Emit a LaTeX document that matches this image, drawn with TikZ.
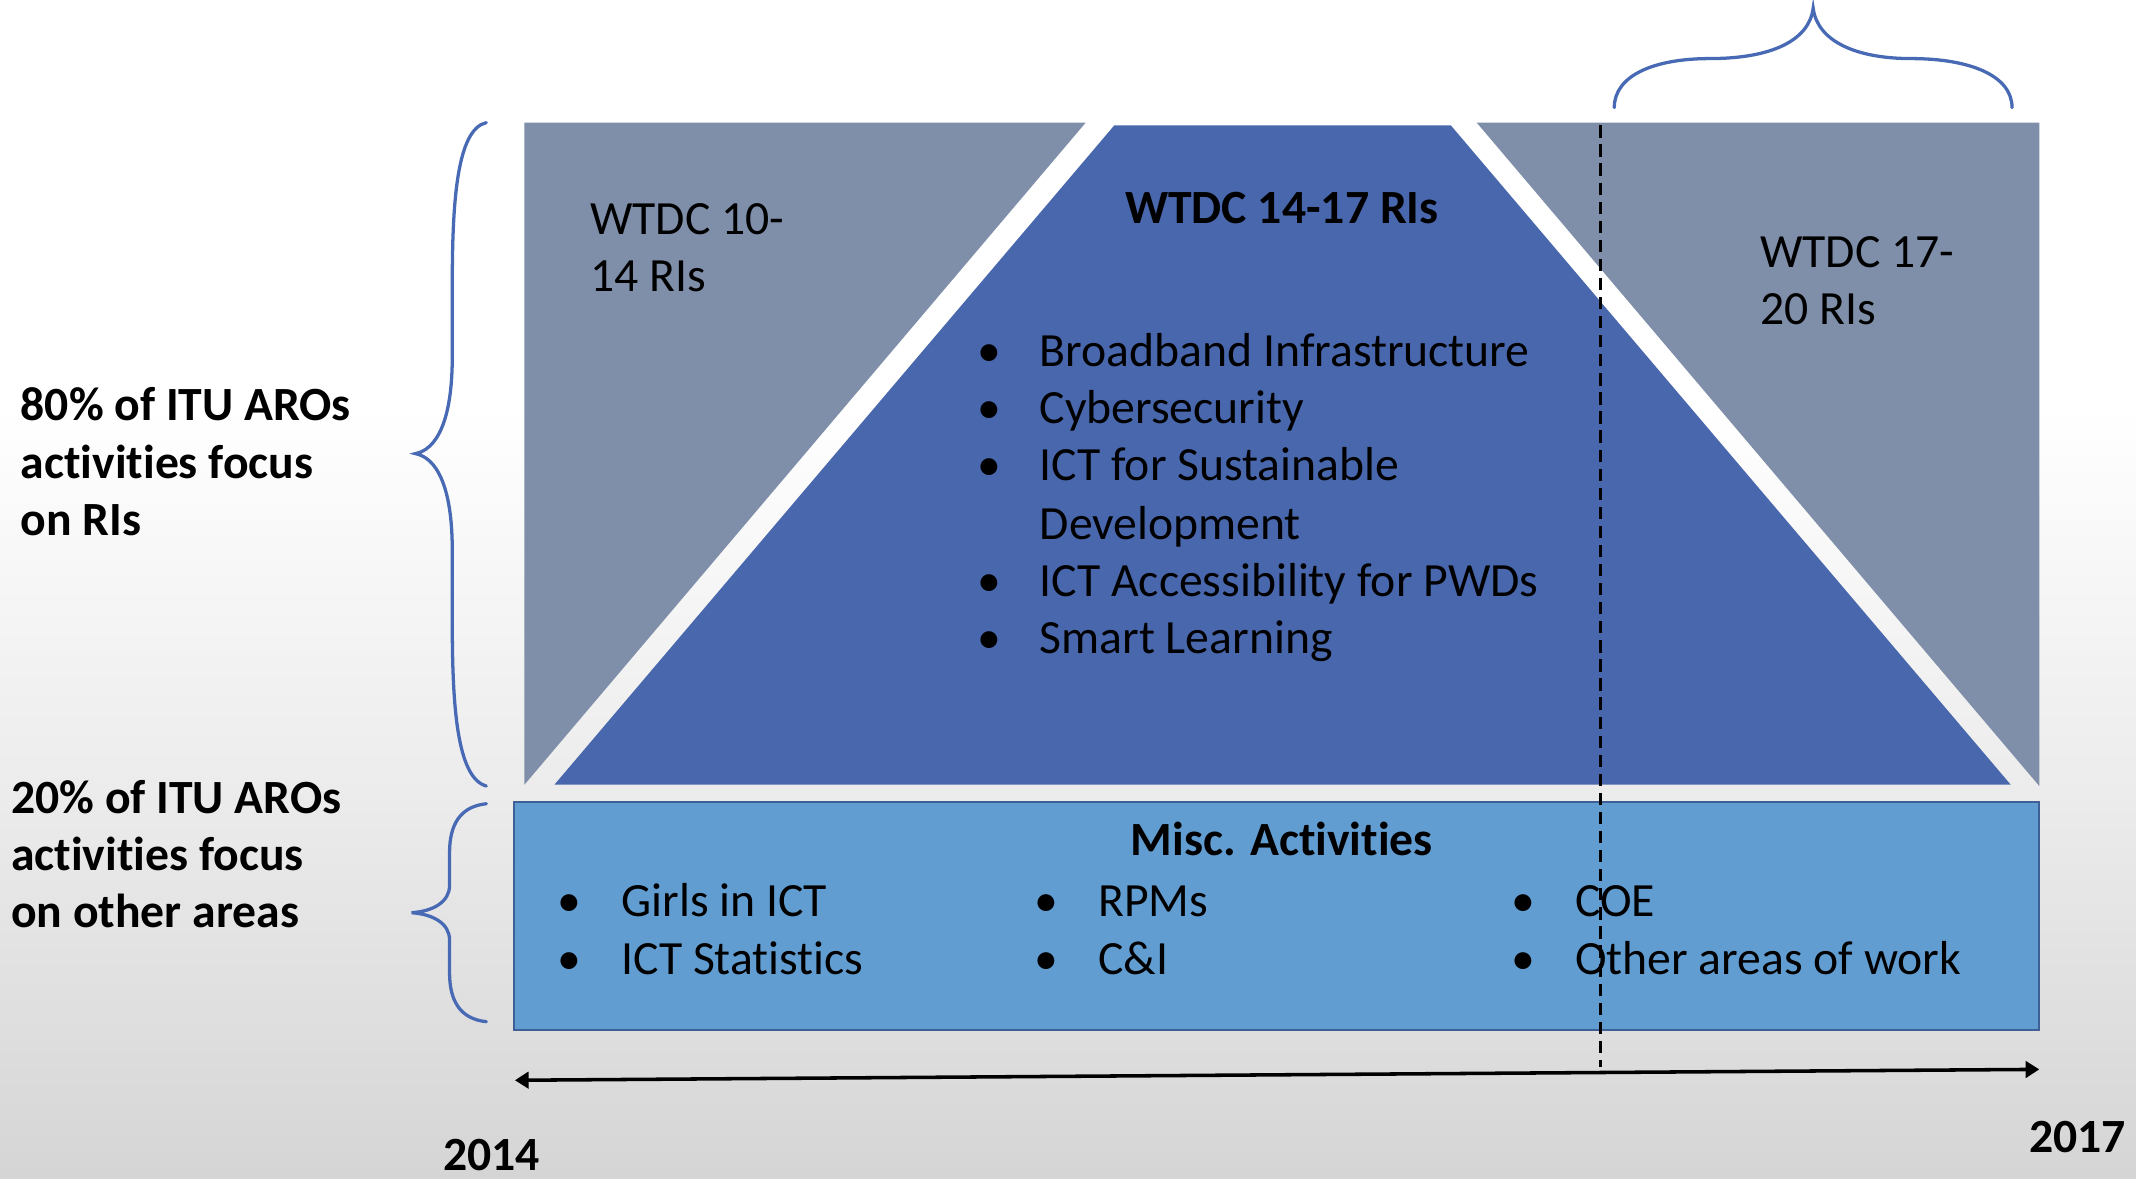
\documentclass[tikz,border=0pt]{standalone}
\usepackage{fontspec}
\setmainfont{Carlito}[Ligatures={NoCommon}]
\usetikzlibrary{arrows.meta}
\definecolor{bggray}{RGB}{213,213,213}
\definecolor{bgmid}{RGB}{236,236,236}
\definecolor{rigray}{RGB}{127,143,169}
\definecolor{riblue}{RGB}{73,103,173}
\definecolor{miscblue}{RGB}{98,157,209}
\definecolor{miscedge}{RGB}{62,96,150}
\definecolor{bracecol}{RGB}{72,106,180}
\begin{document}
\begin{tikzpicture}[x=1pt,y=-1pt,
  txt/.style={font=\fontsize{35}{42}\selectfont, inner sep=0pt, anchor=base west, text=black},
  btxt/.style={txt, font=\fontsize{35}{42}\selectfont\bfseries},
  bul/.style={txt, anchor=base},
  brace/.style={draw=bracecol, line width=2.4pt, line cap=round}]
\useasboundingbox (0,0) rectangle (1568,865);
% background
\fill[white] (0,0) rectangle (1568,300);
\shade[top color=white, bottom color=bgmid] (0,299.5) rectangle (1568,577);
\shade[top color=bgmid, bottom color=bggray] (0,576.5) rectangle (1568,865);
% RI areas
\fill[rigray] (385,90) -- (797,90) -- (385,576) -- cycle;
\fill[rigray] (1084,90) -- (1497,90) -- (1497,577) -- cycle;
\fill[riblue] (818,92) -- (1065,92) -- (1476,576) -- (407,576) -- cycle;
% misc box
\filldraw[fill=miscblue, draw=miscedge, line width=1.5pt] (377,589) rectangle (1497,756);
% texts in upper part
\node[txt] (w1014a) at (433,172) {WTDC 10-};
\node[txt] (w1014b) at (433,214) {14 RIs};
\node[btxt, anchor=base] (w1417) at (941,164) {WTDC 14-17 RIs};
\node[txt] (w1720a) at (1292,196) {WTDC 17-};
\node[txt] (w1720b) at (1292,238) {20 RIs};
\node[bul] (b1) at (726,269) {\textbullet};
\node[txt] (t1) at (763,269) {Broadband Infrastructure};
\node[bul] (b2) at (726,311) {\textbullet};
\node[txt] (t2) at (763,311) {Cybersecurity};
\node[bul] (b3) at (726,353) {\textbullet};
\node[txt] (t3) at (763,353) {ICT for Sustainable};
\node[txt] (t3b) at (763,396) {Development};
\node[bul] (b4) at (726,438) {\textbullet};
\node[txt] (t4) at (763,438) {ICT Accessibility for PWDs};
\node[bul] (b5) at (726,480) {\textbullet};
\node[txt] (t5) at (763,480) {Smart Learning};
% misc texts
\node[btxt, anchor=base] (misct) at (941,628) {Misc. Activities};
\node[bul] (m1b) at (418,673) {\textbullet};
\node[txt] (m1) at (456,673) {Girls in ICT};
\node[bul] (m2b) at (418,715) {\textbullet};
\node[txt] (m2) at (456,715) {ICT Statistics};
\node[bul] (m3b) at (768,673) {\textbullet};
\node[txt] (m3) at (806,673) {RPMs};
\node[bul] (m4b) at (768,715) {\textbullet};
\node[txt] (m4) at (806,715) {C\&I};
\node[bul] (m5b) at (1118,673) {\textbullet};
\node[txt] (m5) at (1156,673) {COE};
\node[bul] (m6b) at (1118,715) {\textbullet};
\node[txt] (m6) at (1156,715) {Other areas of work};
% left texts
\node[btxt] (l1) at (15,309) {80\% of ITU AROs};
\node[btxt] (l2) at (15,351) {activities focus};
\node[btxt] (l3) at (15,393) {on RIs};
\node[btxt] (l4) at (8,597) {20\% of ITU AROs};
\node[btxt] (l5) at (8,639) {activities focus};
\node[btxt] (l6) at (8,681) {on other areas};
% years
\node[btxt, anchor=base] (y14) at (361,859) {2014};
\node[btxt, anchor=base] (y17) at (1525,846) {2017};
% braces
\draw[brace] (357,90) .. controls (335,95) and (332,150) .. (332,210) -- (332,262)
  .. controls (332,310) and (320,330) .. (305,333)
  .. controls (320,336) and (332,356) .. (332,404) -- (332,456)
  .. controls (332,516) and (335,571) .. (357,577);
\draw[brace] (357,590) .. controls (338,592) and (330,605) .. (330,626) -- (330,650)
  .. controls (330,662) and (318,669) .. (302,670)
  .. controls (318,671) and (330,678) .. (330,690) -- (330,714)
  .. controls (330,735) and (338,748) .. (357,750);
\draw[brace] (1185,79) .. controls (1185,55) and (1215,43) .. (1255,43)
  .. controls (1300,43) and (1328,30) .. (1331,6)
  .. controls (1334,30) and (1362,43) .. (1403,43)
  .. controls (1445,43) and (1477,55) .. (1477,79);
% dashed line
\coordinate (dtop) at (1175,92);
\coordinate (dbot) at (1175,783);
\draw[black, line width=2pt, dash pattern=on 9pt off 5pt] (dtop) -- (dbot);
% time arrow
\coordinate (a14) at (378,793);
\coordinate (a17) at (1497,785);
\draw[black, line width=2.6pt, {Triangle[length=10pt,width=12pt]}-{Triangle[length=10pt,width=12pt]}] (a14) -- (a17);
\end{tikzpicture}
\end{document}
